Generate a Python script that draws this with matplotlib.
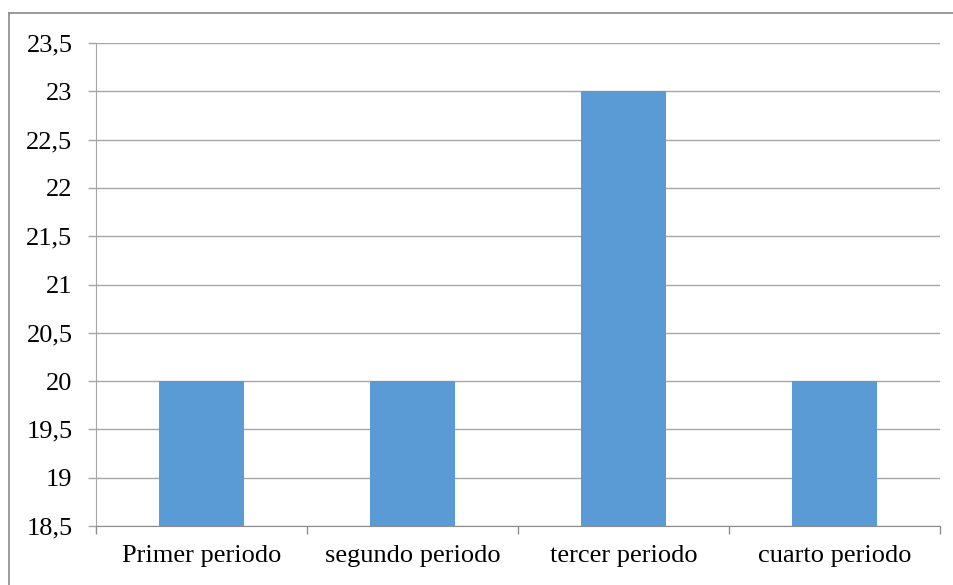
import matplotlib
matplotlib.use("Agg")
import matplotlib.pyplot as plt
from matplotlib.lines import Line2D
from matplotlib.ticker import FixedLocator, FuncFormatter

categories = ["Primer periodo", "segundo periodo", "tercer periodo", "cuarto periodo"]
values = [20, 20, 23, 20]
y_min, y_max, y_step = 18.5, 23.5, 0.5

W, H, DPI = 954, 585, 100
plt.rcParams["font.family"] = ["Liberation Serif", "DejaVu Serif"]

fig = plt.figure(figsize=(W / DPI, H / DPI), dpi=DPI)
ax = fig.add_axes([96 / W, 1 - 526 / H, (940 - 96) / W, (526 - 43) / H])

bar_color = "#5B9BD5"
grid_color = "#A6A6A6"
axis_color = "#8C8C8C"

x = list(range(len(categories)))
ax.bar(x, values, width=0.4, color=bar_color, zorder=3, bottom=0)
ax.set_xlim(-0.5, len(categories) - 0.5)
ax.set_ylim(y_min, y_max)

n_ticks = int(round((y_max - y_min) / y_step)) + 1
yticks = [y_min + i * y_step for i in range(n_ticks)]
ax.set_yticks(yticks)
ax.yaxis.set_major_formatter(FuncFormatter(
    lambda v, p: (f"{v:g}").replace(".", ",")))
ax.grid(axis="y", color=grid_color, linewidth=1.0, zorder=0)

ax.set_xticks(x)
ax.set_xticklabels(categories)
ax.xaxis.set_minor_locator(FixedLocator([i + 0.5 for i in range(-1, len(categories))]))

for side in ["top", "right"]:
    ax.spines[side].set_visible(False)
ax.spines["left"].set_color(grid_color)
ax.spines["bottom"].set_color(axis_color)
ax.spines["left"].set_zorder(1)

ax.tick_params(axis="y", length=6, width=1, color=grid_color, pad=11,
               labelsize=19, labelcolor="black")
ax.tick_params(axis="x", which="major", length=0, pad=14, labelsize=19,
               labelcolor="black")
ax.tick_params(axis="x", which="minor", length=6, width=1, color=axis_color)

# outer chart frame (top and left edges)
border = "#8A8A8A"
fig.add_artist(Line2D([9 / W, 1], [1 - 13 / H, 1 - 13 / H], color=border,
                      linewidth=1.2, transform=fig.transFigure))
fig.add_artist(Line2D([9 / W, 9 / W], [0, 1 - 13 / H], color=border,
                      linewidth=1.2, transform=fig.transFigure))

fig.savefig("out.png", dpi=DPI)
